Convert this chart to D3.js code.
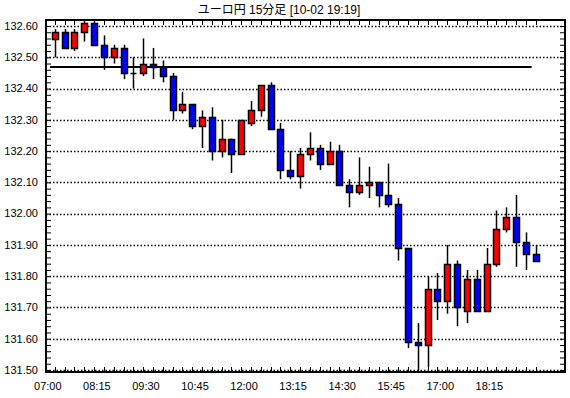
<!DOCTYPE html>
<html lang="ja">
<head>
<meta charset="utf-8">
<script src="https://d3js.org/d3.v7.min.js"></script>
<style>
  body { margin: 0; background: #fff; }
  text { font-family: "Liberation Sans", Arial, "Noto Sans CJK JP", sans-serif; fill: #000; }
</style>
</head>
<body>
<svg width="570" height="398"></svg>
<script>
// 15-minute candles, 07:00 .. 19:15
const times = ["07:00","07:15","07:30","07:45","08:00","08:15","08:30","08:45","09:00","09:15",
  "09:30","09:45","10:00","10:15","10:30","10:45","11:00","11:15","11:30","11:45",
  "12:00","12:15","12:30","12:45","13:00","13:15","13:30","13:45","14:00","14:15",
  "14:30","14:45","15:00","15:15","15:30","15:45","16:00","16:15","16:30","16:45",
  "17:00","17:15","17:30","17:45","18:00","18:15","18:30","18:45","19:00","19:15"];
const opens = [132.56,132.58,132.53,132.58,132.61,132.54,132.50,132.53,132.45,132.45,
  132.48,132.47,132.44,132.33,132.35,132.28,132.31,132.20,132.24,132.19,
  132.29,132.33,132.41,132.27,132.14,132.12,132.19,132.21,132.16,132.20,
  132.09,132.07,132.09,132.10,132.06,132.03,131.89,131.59,131.58,131.76,
  131.72,131.84,131.69,131.79,131.69,131.84,131.95,131.99,131.91,131.87];
const highs = [132.59,132.59,132.59,132.615,132.615,132.57,132.54,132.54,132.50,132.56,
  132.53,132.49,132.45,132.39,132.35,132.33,132.34,132.30,132.24,132.30,
  132.36,132.41,132.42,132.29,132.20,132.21,132.26,132.22,132.23,132.22,
  132.11,132.18,132.15,132.10,132.16,132.05,131.89,131.65,131.80,131.81,
  131.90,131.85,131.82,131.82,131.89,132.01,132.02,132.06,131.94,131.90];
const lows = [132.50,132.53,132.52,132.55,132.54,132.46,132.48,132.43,132.40,132.44,
  132.43,132.42,132.30,132.32,132.27,132.21,132.17,132.18,132.13,132.19,
  132.28,132.31,132.27,132.11,132.11,132.08,132.17,132.14,132.16,132.09,
  132.02,132.06,132.05,132.02,132.02,131.85,131.57,131.50,131.51,131.66,
  131.68,131.64,131.65,131.69,131.69,131.83,131.94,131.83,131.82,131.85];
const closes = [132.58,132.53,132.58,132.61,132.54,132.50,132.53,132.45,132.45,132.48,
  132.47,132.44,132.33,132.35,132.28,132.31,132.20,132.24,132.19,132.30,
  132.33,132.41,132.27,132.14,132.12,132.19,132.21,132.16,132.20,132.09,
  132.07,132.09,132.10,132.06,132.03,131.89,131.59,131.58,131.76,131.72,
  131.84,131.70,131.79,131.69,131.84,131.95,131.99,131.91,131.87,131.85];

const xTickLabels = ["07:00","08:15","09:30","10:45","12:00","13:15","14:30","15:45","17:00","18:15"];
const yTickValues = [131.50,131.60,131.70,131.80,131.90,132.00,132.10,132.20,132.30,132.40,132.50,132.60];
const refLevel = 132.47;
const title = "ユーロ円 15分足 [10-02 19:19]";

const svg = d3.select("svg");
const plotLeft = 46, plotRight = 565, plotTop = 20, plotBottom = 372;

var x = d3.scaleLinear().domain([-0.9, 52]).range([plotLeft, plotRight]);
var y = d3.scaleLinear().domain([131.5, 132.6]).range([370, 26]);

const candles = times.map(function (t, i) {
  return { t: t, i: i, o: opens[i], h: highs[i], l: lows[i], c: closes[i] };
});

// title
svg.append("text")
  .attr("x", 279).attr("y", 14)
  .attr("text-anchor", "middle")
  .style("font-size", "12px")
  .text(title);

// grid lines
svg.append("g")
  .selectAll("line")
  .data(yTickValues)
  .enter()
  .append("line")
  .attr("x1", plotLeft).attr("x2", plotRight)
  .attr("y1", d => Math.round(y(d)) + 0.5)
  .attr("y2", d => Math.round(y(d)) + 0.5)
  .attr("stroke", "#000")
  .attr("stroke-width", 1.5)
  .attr("stroke-dasharray", "1.5,2");

// y labels
svg.append("g")
  .selectAll("text")
  .data(yTickValues)
  .enter()
  .append("text")
  .attr("x", 38)
  .attr("y", d => y(d))
  .attr("dy", "0.35em")
  .attr("text-anchor", "end")
  .style("font-size", "11px")
  .text(d => d.toFixed(2));

// minor ticks, inside the frame on both sides
svg.append("g")
  .attr("transform", "translate(" + plotLeft + ",0)")
  .call(d3.axisRight(y).ticks(55).tickSize(5).tickFormat(""))
  .call(g => g.select(".domain").remove());
svg.append("g")
  .attr("transform", "translate(" + plotRight + ",0)")
  .call(d3.axisLeft(y).ticks(55).tickSize(5).tickFormat(""))
  .call(g => g.select(".domain").remove());

// x ticks top and bottom
const tickIdx = d3.range(times.length);
svg.append("g")
  .selectAll("line")
  .data(tickIdx)
  .enter()
  .append("line")
  .attr("x1", d => Math.round(x(d)) + 0.5)
  .attr("x2", d => Math.round(x(d)) + 0.5)
  .attr("y1", plotBottom).attr("y2", plotBottom - 5)
  .attr("stroke", "#000");
svg.append("g")
  .selectAll("line")
  .data(tickIdx)
  .enter()
  .append("line")
  .attr("x1", d => Math.round(x(d)) + 0.5)
  .attr("x2", d => Math.round(x(d)) + 0.5)
  .attr("y1", plotTop).attr("y2", plotTop + 5)
  .attr("stroke", "#000");

// x labels
svg.append("g")
  .selectAll("text")
  .data(xTickLabels)
  .enter()
  .append("text")
  .attr("x", d => x(times.indexOf(d)) - 7)
  .attr("y", 390)
  .attr("text-anchor", "middle")
  .style("font-size", "11px")
  .text(d => d);

// reference line
svg.append("line")
  .attr("x1", x(-0.5)).attr("x2", x(48.6))
  .attr("y1", Math.round(y(refLevel))).attr("y2", Math.round(y(refLevel)))
  .attr("stroke", "#000")
  .attr("stroke-width", 2);

// candles
const cg = svg.append("g");
cg.selectAll("line")
  .data(candles)
  .enter()
  .append("line")
  .attr("x1", d => Math.round(x(d.i)) + 0.5)
  .attr("x2", d => Math.round(x(d.i)) + 0.5)
  .attr("y1", d => Math.max(plotTop, y(d.h)))
  .attr("y2", d => Math.min(plotBottom, y(d.l)))
  .attr("stroke", "#000")
  .attr("stroke-width", 1.5);

cg.selectAll("path")
  .data(candles)
  .enter()
  .append("path")
  .attr("d", function (d) {
    const x0 = Math.round(x(d.i)) - 2.5;
    const y0 = Math.round(y(Math.max(d.o, d.c))) + 0.5;
    const y1 = Math.round(y(Math.min(d.o, d.c))) + 0.5;
    return "M" + x0 + "," + y0 + "h6V" + y1 + "h-6Z";
  })
  .attr("fill", d => d.c >= d.o ? "#ff0000" : "#0000ff")
  .attr("stroke", "#000")
  .attr("stroke-width", 1.5);

// frame
svg.append("rect")
  .attr("x", plotLeft).attr("y", plotTop)
  .attr("width", plotRight - plotLeft).attr("height", plotBottom - plotTop)
  .attr("fill", "none")
  .attr("stroke", "#000")
  .attr("stroke-width", 2);
</script>
</body>
</html>
